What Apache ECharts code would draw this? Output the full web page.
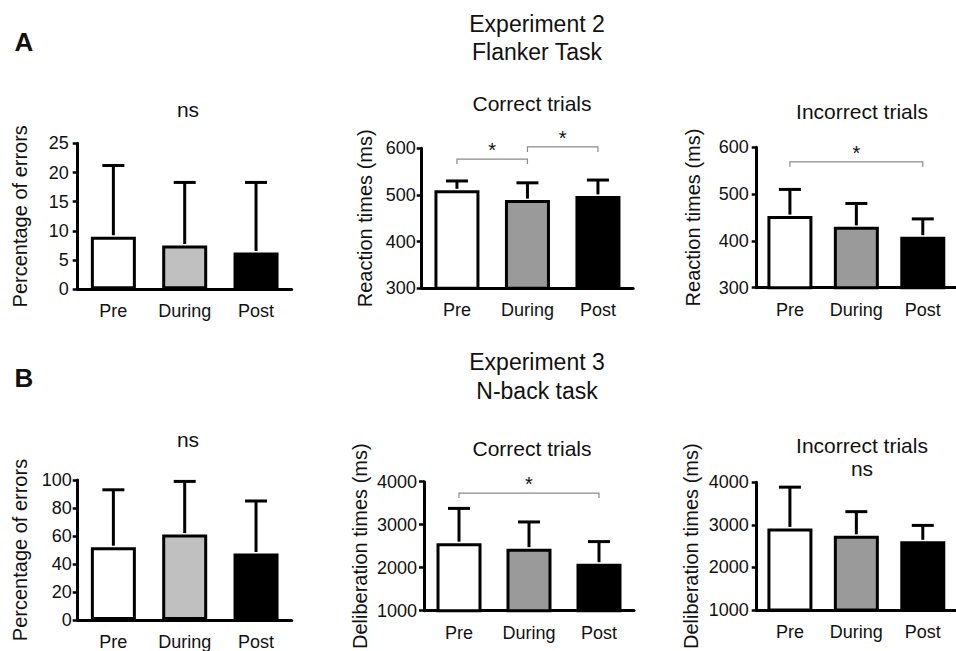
<!DOCTYPE html>
<html>
<head>
<meta charset="utf-8">
<script src="https://cdn.jsdelivr.net/npm/echarts@6/dist/echarts.min.js"></script>
<style>html,body{margin:0;padding:0;background:#fff;}#c{width:956px;height:651px;}</style>
</head>
<body>
<div id="c"></div>
<script>
// ---- data ----
const categories = ['Pre', 'During', 'Post'];

// A: Experiment 2, Flanker task
const a1Mean = [9.0, 7.5, 6.3];      // percentage of errors
const a1Sd   = [12.2, 10.8, 12.0];
const a2Mean = [510, 489, 498];      // RT correct trials (ms)
const a2Sd   = [20, 37, 34];
const a3Mean = [453, 430, 409];      // RT incorrect trials (ms)
const a3Sd   = [57, 50, 38];

// B: Experiment 3, N-back task
const b1Mean = [52, 61, 47.5];       // percentage of errors
const b1Sd   = [41, 38, 37.5];
const b2Mean = [2571, 2443, 2093];   // deliberation correct trials (ms)
const b2Sd   = [808, 621, 514];
const b3Mean = [2917, 2744, 2615];   // deliberation incorrect trials (ms)
const b3Sd   = [969, 567, 373];

// significance brackets: [fromIndex, toIndex, yValue]
const a2Brackets = [[0, 1, 577], [1, 2, 603]];
const a3Brackets = [[0, 2, 569]];
const b2Brackets = [[0, 2, 3736]];

// y axis ticks: [min, max, interval]
const a1Ticks = [0, 25, 5];
const a2Ticks = [300, 600, 100];
const a3Ticks = [300, 600, 100];
const b1Ticks = [0, 100, 20];
const b2Ticks = [1000, 4000, 1000];
const b3Ticks = [1000, 4000, 1000];

const FONT = '"Liberation Sans", Arial, Helvetica, sans-serif';
const lightFill = ['#ffffff', '#c0c0c0', '#000000'];
const darkFill  = ['#ffffff', '#9a9a9a', '#000000'];

const panels = [
  {mean: a1Mean, sd: a1Sd, ticks: a1Ticks, fills: lightFill, name: 'Percentage of errors', brackets: [],
   grid: {left: 77.7, top: 143.3, width: 214, height: 146}, nameGap: 48, labelMargin: 9},
  {mean: a2Mean, sd: a2Sd, ticks: a2Ticks, fills: darkFill, name: 'Reaction times (ms)', brackets: a2Brackets,
   grid: {left: 421.7, top: 148.3, width: 211.5, height: 140}, nameGap: 47, labelMargin: 6},
  {mean: a3Mean, sd: a3Sd, ticks: a3Ticks, fills: darkFill, name: 'Reaction times (ms)', brackets: a3Brackets,
   grid: {left: 756.7, top: 147.3, width: 211, height: 140.4}, nameGap: 54, labelMargin: 8},
  {mean: b1Mean, sd: b1Sd, ticks: b1Ticks, fills: lightFill, name: 'Percentage of errors', brackets: [],
   grid: {left: 77.7, top: 480, width: 214, height: 141.7}, nameGap: 48, labelMargin: 6},
  {mean: b2Mean, sd: b2Sd, ticks: b2Ticks, fills: darkFill, name: 'Deliberation times (ms)', brackets: b2Brackets,
   grid: {left: 424, top: 481.7, width: 210, height: 140}, nameGap: 54, labelMargin: 7},
  {mean: b3Mean, sd: b3Sd, ticks: b3Ticks, fills: darkFill, name: 'Deliberation times (ms)', brackets: [],
   grid: {left: 756.7, top: 482.3, width: 211, height: 139.4}, nameGap: 56, labelMargin: 8}
];

const grids = [], xAxes = [], yAxes = [], series = [];

panels.forEach((p, i) => {
  grids.push(Object.assign({containLabel: false}, p.grid));
  xAxes.push({
    type: 'category', gridIndex: i, data: categories,
    axisLine: {onZero: false, lineStyle: {color: '#000', width: 3}},
    axisTick: {alignWithLabel: true, length: 5, lineStyle: {color: '#000', width: 2.5}},
    axisLabel: {interval: 0, fontSize: 18, color: '#111', fontFamily: FONT, margin: 13}
  });
  yAxes.push({
    type: 'value', gridIndex: i, min: p.ticks[0], max: p.ticks[1], interval: p.ticks[2],
    name: p.name, nameLocation: 'middle', nameRotate: 90, nameGap: p.nameGap,
    nameTextStyle: {fontSize: 20, color: '#111', fontFamily: FONT},
    axisLine: {show: true, lineStyle: {color: '#000', width: 3}},
    axisTick: {show: true, length: 5, lineStyle: {color: '#000', width: 2.5}},
    axisLabel: {fontSize: 18, color: '#111', fontFamily: FONT, margin: p.labelMargin,
                formatter: function (v) { return String(v); }},
    splitLine: {show: false}
  });
  series.push({
    type: 'bar', xAxisIndex: i, yAxisIndex: i, barWidth: 45, silent: true,
    data: p.mean.map((v, k) => ({value: v, itemStyle: {color: p.fills[k], borderColor: '#000', borderWidth: 3}})),
    z: 2
  });
  series.push({
    type: 'custom', xAxisIndex: i, yAxisIndex: i, silent: true, clip: false, z: 3,
    data: p.mean.map((v, k) => [k, v, v + p.sd[k]]),
    encode: {x: 0, y: [1, 2]},
    renderItem: function (params, api) {
      const base = api.coord([api.value(0), api.value(1)]);
      const top = api.coord([api.value(0), api.value(2)]);
      const cap = 11;
      return {
        type: 'group',
        children: [
          {type: 'line', shape: {x1: base[0], y1: base[1] - 1.5, x2: top[0], y2: top[1]},
           style: {stroke: '#000', lineWidth: 3}},
          {type: 'line', shape: {x1: top[0] - cap, y1: top[1], x2: top[0] + cap, y2: top[1]},
           style: {stroke: '#000', lineWidth: 3}}
        ]
      };
    }
  });
  if (p.brackets.length) {
    series.push({
      type: 'custom', xAxisIndex: i, yAxisIndex: i, silent: true, clip: false, z: 4,
      data: p.brackets,
      encode: {x: [0, 1], y: 2},
      renderItem: function (params, api) {
        const p0 = api.coord([api.value(0), api.value(2)]);
        const p1 = api.coord([api.value(1), api.value(2)]);
        const d = 5;
        return {
          type: 'group',
          children: [
            {type: 'polyline', shape: {points: [[p0[0], p0[1] + d], [p0[0], p0[1]], [p1[0], p1[1]], [p1[0], p1[1] + d]]},
             style: {stroke: '#8a8a8a', lineWidth: 1.2, fill: null}},
            {type: 'text', x: (p0[0] + p1[0]) / 2, y: p0[1] - 9,
             style: {text: '*', fontSize: 20, fontFamily: FONT, fill: '#111', align: 'center', verticalAlign: 'middle'}}
          ]
        };
      }
    });
  }
});

function txt(text, x, y, size, bold) {
  return {type: 'text', x: x, y: y, silent: true,
    style: {text: text, fontSize: size, fontWeight: bold ? 'bold' : 'normal', fontFamily: FONT, fill: '#111',
            align: 'center', verticalAlign: 'middle'}};
}

const graphics = [
  txt('A', 24, 42, 26, true),
  txt('Experiment 2', 537, 24, 23),
  txt('Flanker Task', 537, 52, 23),
  txt('ns', 188, 109.5, 21),
  txt('Correct trials', 532, 103, 21),
  txt('Incorrect trials', 862, 111.5, 21),
  txt('B', 24, 378, 26, true),
  txt('Experiment 3', 537, 362, 23),
  txt('N-back task', 537, 391, 23),
  txt('ns', 188, 439.5, 21),
  txt('Correct trials', 532, 448, 21),
  txt('Incorrect trials', 862, 445, 21),
  txt('ns', 862, 468, 21)
];

const chart = echarts.init(document.getElementById('c'), null, {renderer: 'svg'});
chart.setOption({
  animation: false,
  backgroundColor: '#ffffff',
  grid: grids,
  xAxis: xAxes,
  yAxis: yAxes,
  series: series,
  graphic: graphics
});
</script>
</body>
</html>
